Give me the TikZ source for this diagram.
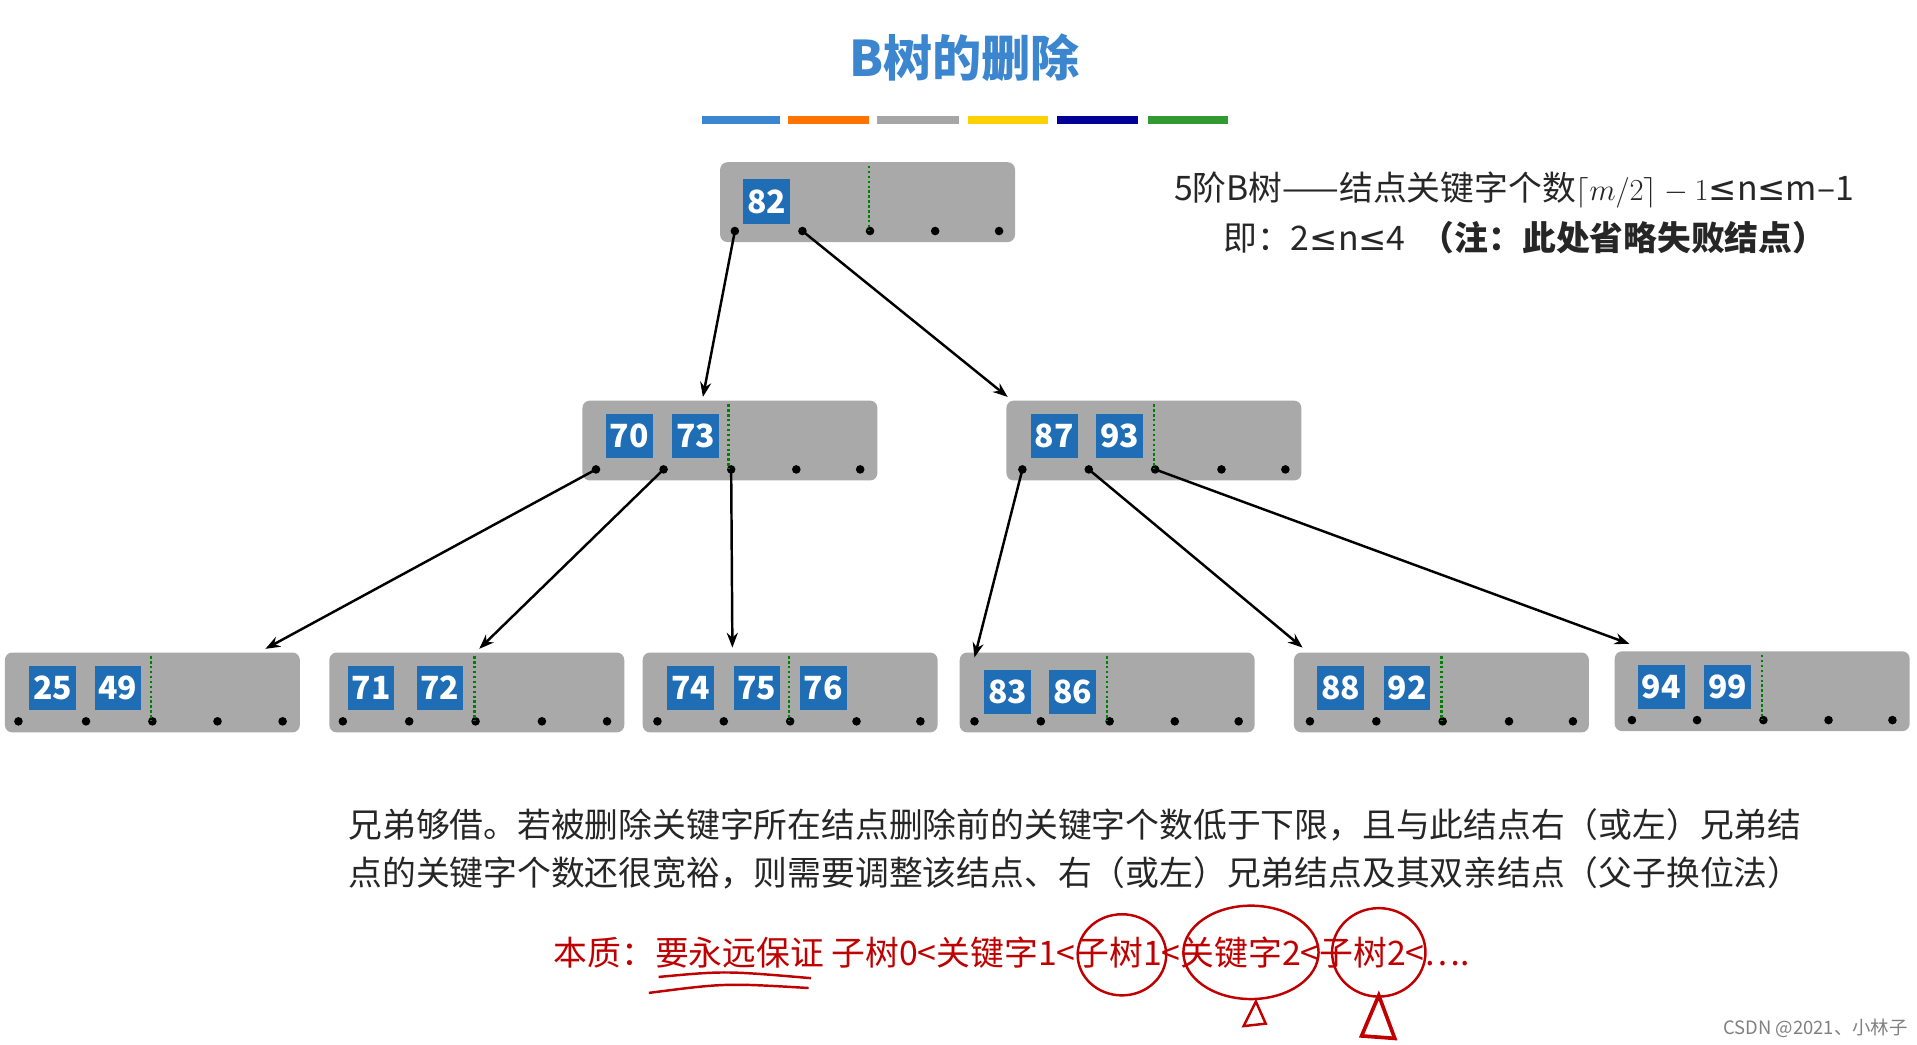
\documentclass[tikz,border=0pt]{standalone}
\usepackage{fontspec}
\setmainfont{Noto Sans CJK SC}
\newfontfamily\dv{DejaVu Sans}
\usetikzlibrary{arrows.meta}
\definecolor{kb}{HTML}{1F6DB5}
\definecolor{gb}{HTML}{A9A9A9}
\definecolor{tb}{HTML}{3C86D0}
\definecolor{rd}{HTML}{C00000}
\tikzset{
 bbox/.style={fill=gb,rounded corners=6pt,draw=none},
 key/.style={fill=kb,text=white,font=\fontsize{26}{26}\selectfont\bfseries,minimum width=38pt,minimum height=36pt,inner sep=0pt},
 ptr/.style={fill=black,circle,inner sep=0pt,minimum size=7pt},
 sep/.style={draw=green!50!black,dotted,line width=2pt},
 arr/.style={-{Stealth[length=12pt,width=9pt]},line width=2pt},
 red/.style={draw=rd,line width=2pt},
 txt/.style={anchor=west,font=\fontsize{27.5}{27.5}\selectfont,text=black!85},
}
\newcommand\bnd[4]{% name, x1, y1, 5 dot xs
 \fill[bbox] (#2,#3) rectangle ++(240,65);
 \foreach \dx [count=\i] in {#4} \node[ptr] (#1p\i) at (\dx,#3+56) {};
}
\begin{document}
\begin{tikzpicture}[x=1pt,y=-1pt]
\useasboundingbox[fill=white] (0,0) rectangle (1560,850);
\node[text=tb,font=\fontsize{40}{40}\selectfont\bfseries] (title) at (785,47) {B树的删除};
\fill[tb] (571,94) rectangle (635,101);
\fill[orange!90!red] (641,94) rectangle (707,101);
\fill[gray!70] (714,94) rectangle (780,101);
\fill[yellow!70!orange] (788,94) rectangle (853,101);
\fill[blue!60!black] (860,94) rectangle (926,101);
\fill[green!50!black!80] (934,94) rectangle (999,101);
% root
\bnd{r}{586}{132}{598,653,708,761,813}
\node[key] (k82) at (624,164) {82};
\draw[sep] (707,135) -- (707,188);
% level 2
\bnd{a}{474}{326}{485,540,595,648,700}
\node[key] (k70) at (512,355) {70};
\node[key] (k73) at (566,355) {73};
\draw[sep] (593,329) -- (593,382);
\bnd{b}{819}{326}{832,886,940,994,1046}
\node[key] (k87) at (858,355) {87};
\node[key] (k93) at (911,355) {93};
\draw[sep] (939,329) -- (939,382);
% leaves
\bnd{c}{4}{531}{15,70,124,177,230}
\node[key] (k25) at (43,560) {25};
\node[key] (k49) at (96,560) {49};
\draw[sep] (123,534) -- (123,587);
\bnd{d}{268}{531}{279,333,387,441,494}
\node[key] (k71) at (302,560) {71};
\node[key] (k72) at (358,560) {72};
\draw[sep] (386,534) -- (386,587);
\bnd{e}{523}{531}{535,589,643,697,749}
\node[key] (k74) at (562,560) {74};
\node[key] (k75) at (616,560) {75};
\node[key] (k76) at (670,560) {76};
\draw[sep] (642,534) -- (642,587);
\bnd{f}{781}{531}{793,847,903,956,1008}
\node[key] (k83) at (820,563) {83};
\node[key] (k86) at (873,563) {86};
\draw[sep] (901,534) -- (901,587);
\bnd{g}{1053}{531}{1066,1120,1174,1228,1280}
\node[key] (k88) at (1091,560) {88};
\node[key] (k92) at (1145,560) {92};
\draw[sep] (1173,534) -- (1173,587);
\bnd{h}{1314}{530}{1328,1381,1435,1488,1540}
\node[key] (k94) at (1352,559) {94};
\node[key] (k99) at (1406,559) {99};
\draw[sep] (1434,533) -- (1434,586);
% arrows
\coordinate (ta) at (572,323); \coordinate (tb2) at (820,323);
\draw[arr] (rp1.center) -- (ta);
\draw[arr] (rp2.center) -- (tb2);
\coordinate (tc) at (216,528); \coordinate (td) at (390,528); \coordinate (te) at (596,527);
\draw[arr] (ap1.center) -- (tc);
\draw[arr] (ap2.center) -- (td);
\draw[arr] (ap3.center) -- (te);
\coordinate (tf) at (793,535); \coordinate (tg) at (1060,527); \coordinate (th) at (1326,524);
\draw[arr] (bp1.center) -- (tf);
\draw[arr] (bp2.center) -- (tg);
\draw[arr] (bp3.center) -- (th);
% texts
\node[txt] (t1) at (952,155) {5阶B树——结点关键字个数$\lceil m/2\rceil-1${\dv≤}n{\dv≤}m–1};
\node[txt] (t2) at (992,193) {即：2{\dv≤}n{\dv≤}4 \ \textbf{（注：此处省略失败结点）}};
\node[txt] (p1) at (280,671) {兄弟够借。若被删除关键字所在结点删除前的关键字个数低于下限，且与此结点右（或左）兄弟结};
\node[txt] (p2) at (280,710) {点的关键字个数还很宽裕，则需要调整该结点、右（或左）兄弟结点及其双亲结点（父子换位法）};
\node[txt,text=rd] (p3) at (447,775) {本质：要永远保证 子树0<关键字1<子树1<关键字2<子树2<….};
% handwriting
\draw[red] (913,777) ellipse (36 and 33);
\draw[red] (1018,775) ellipse (55 and 38);
\draw[red] (1122,775) ellipse (38 and 36);
\draw[red] (536,795) .. controls (590,790) .. (660,796);
\draw[red] (528,808) .. controls (590,800) .. (658,804);
\draw[red] (1022,815) -- (1012,835) -- (1030,833) -- cycle;
\draw[red,line width=3pt] (1122,810) -- (1108,843) -- (1135,845) -- cycle;
\node[anchor=east,font=\fontsize{15}{15}\selectfont,text=gray] (w) at (1556,837) {CSDN @2021、小林子};
\end{tikzpicture}
\end{document}
